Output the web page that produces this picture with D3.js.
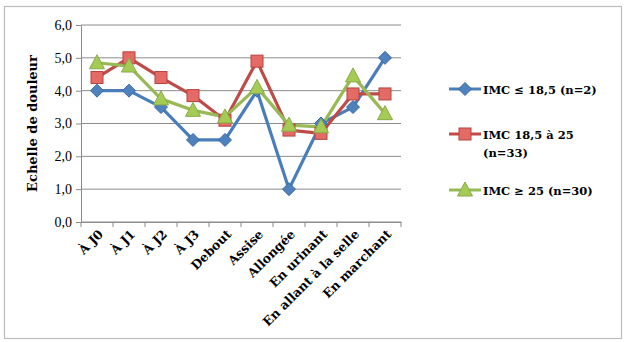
<!DOCTYPE html>
<html><head><meta charset="utf-8">
<script src="https://cdn.jsdelivr.net/npm/d3@7"></script>
<style>body{margin:0;background:#fff}</style>
</head><body>
<svg id="c" width="625" height="342"></svg>
<script>
const categories = ["À J0","À J1","À J2","À J3","Debout","Assise","Allongée","En urinant","En allant à la selle","En marchant"];
const seriesNames = ["IMC ≤ 18,5 (n=2)","IMC 18,5 à 25 (n=33)","IMC ≥ 25 (n=30)"];
const blueValues = [4.0,4.0,3.5,2.5,2.5,4.0,1.0,3.0,3.5,5.0];
const redValues = [4.4,5.0,4.4,3.85,3.1,4.9,2.8,2.7,3.9,3.9];
const greenValues = [4.85,4.75,3.75,3.4,3.2,4.1,2.95,2.9,4.45,3.3];
const yTicks = [0,1,2,3,4,5,6];
const yTitle = "Echelle de douleur";

const svg = d3.select("#c");
const serif = "'Liberation Serif',serif";
const wserif = "'DejaVu Serif',serif";
svg.append("rect").attr("x",4.5).attr("y",6.5).attr("width",617).attr("height",332)
  .attr("fill","#fff").attr("stroke","#bdbdbd").attr("stroke-width",1.2);

const x0=81,x1=401,yTop=25,yBot=222;
const x = d3.scaleBand().domain(categories).range([x0,x1]);
const y = d3.scaleLinear().domain([0,6]).range([yBot,yTop]);

const g = svg.append("g");
g.selectAll("line.grid").data(yTicks).join("line")
  .attr("x1",x0).attr("x2",x1).attr("y1",d=>y(d)).attr("y2",d=>y(d))
  .attr("stroke","#8c8c8c").attr("stroke-width",1);

const yAx = g.append("g").attr("transform",`translate(${x0},0)`)
  .call(d3.axisLeft(y).tickValues(yTicks).tickSize(5).tickPadding(4).tickFormat(d=>d.toFixed(1).replace(".",",")));
yAx.select(".domain").attr("stroke","#8c8c8c");
yAx.selectAll(".tick line").attr("stroke","#8c8c8c");
yAx.selectAll("text").attr("font-family",serif).attr("font-size",14).attr("fill","#000");

const xAx = g.append("g").attr("transform",`translate(0,${yBot})`)
  .call(d3.axisBottom(x).tickSize(0).tickFormat(""));
xAx.select(".domain").attr("stroke","#8c8c8c");
const bounds = categories.map(c=>x(c)).concat([x1]);
g.selectAll("line.xt").data(bounds).join("line")
  .attr("x1",d=>d).attr("x2",d=>d).attr("y1",yBot).attr("y2",yBot+5).attr("stroke","#8c8c8c");
g.selectAll("text.cat").data(categories).join("text")
  .attr("transform",d=>`translate(${x(d)+x.bandwidth()/2+7},${yBot+13}) rotate(-45)`)
  .attr("text-anchor","end").attr("font-family",wserif).attr("font-weight","bold")
  .attr("font-size",12.5).attr("fill","#000").text(d=>d);

svg.append("text").attr("transform",`translate(37,${(yTop+yBot)/2}) rotate(-90)`)
  .attr("text-anchor","middle").attr("font-family",wserif).attr("font-weight","bold")
  .attr("font-size",13).text(yTitle);

const series = [
  {name:seriesNames[0],values:blueValues,line:"#4a7ebb",fill:"#4f81bd",stroke:"#3a6aa6",shape:"diamond"},
  {name:seriesNames[1],values:redValues,line:"#be4b48",fill:"#e46a66",stroke:"#b8433f",shape:"square"},
  {name:seriesNames[2],values:greenValues,line:"#98b954",fill:"#a4cc55",stroke:"#8aab48",shape:"triangle"}
];
const cx = c=>x(c)+x.bandwidth()/2;
const line = d3.line().x((d,i)=>cx(categories[i])).y(d=>y(d));
function marker(sel,s){
  if(s.shape==="diamond") sel.append("path").attr("d","M0,-6.5L6.5,0L0,6.5L-6.5,0Z");
  else if(s.shape==="square") sel.append("rect").attr("x",-6).attr("y",-6).attr("width",12).attr("height",12);
  else sel.append("path").attr("d","M0,-8L7.5,6L-7.5,6Z");
  sel.selectAll("*").attr("fill",s.fill).attr("stroke",s.stroke).attr("stroke-width",1);
}
series.forEach(s=>{
  g.append("path").datum(s.values).attr("d",line).attr("fill","none")
    .attr("stroke",s.line).attr("stroke-width",3.2).attr("stroke-linejoin","round");
});
series.forEach(s=>{
  s.values.forEach((v,i)=>{
    const m = g.append("g").attr("transform",`translate(${cx(categories[i])},${y(v)})`);
    marker(m,s);
  });
});

const leg = [{y:89,lines:["IMC ≤ 18,5 (n=2)"]},{y:134,lines:["IMC 18,5 à 25","(n=33)"]},{y:190,lines:["IMC ≥ 25 (n=30)"]}];
series.forEach((s,i)=>{
  const L = leg[i];
  const lg = svg.append("g");
  lg.append("line").attr("x1",449).attr("x2",481).attr("y1",L.y).attr("y2",L.y)
    .attr("stroke",s.line).attr("stroke-width",3);
  const m = lg.append("g").attr("transform",`translate(465,${L.y})`);
  marker(m,s);
  const t = lg.append("text").attr("x",483).attr("y",L.y+4.5).attr("font-family",wserif)
    .attr("font-weight","bold").attr("font-size",11.5).attr("fill","#000");
  L.lines.forEach((ln,j)=>t.append("tspan").attr("x",483).attr("dy",j?18:0).text(ln));
});
</script>
</body></html>
